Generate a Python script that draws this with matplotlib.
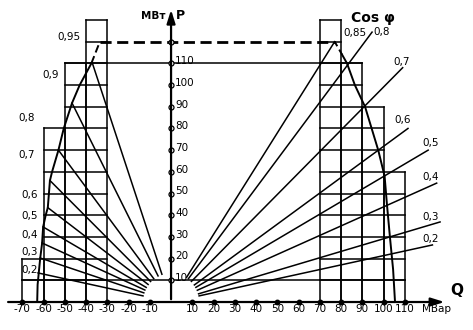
import matplotlib
matplotlib.use("Agg")
import matplotlib.pyplot as plt
import numpy as np

# ---- data ----
q_ticks = [-70, -60, -50, -40, -30, -20, -10, 10, 20, 30, 40, 50, 60, 70, 80, 90, 100, 110]
p_ticks = [10, 20, 30, 40, 50, 60, 70, 80, 90, 100, 110]

# grid columns: (Q from, Q to, top P)
left_cols = [(-70, -60, 20), (-60, -50, 80), (-50, -40, 110), (-40, -30, 130)]
right_cols = [(70, 80, 130), (80, 90, 110), (90, 100, 90), (100, 110, 60)]

# left limiting curve (Q, P)
left_bq = [-63.0, -62.8, -62.2, -61.6, -60.7, -60.2, -59.0, -58.0, -57.0, -56.0, -53.0, -50.5, -46.6, -43.0, -37.5, -35.5, -33.5]
left_bp = [0, 8, 14, 20, 27, 34.6, 40, 43.5, 56, 60, 70, 80, 91.7, 100, 110, 115, 120]

# right limiting curve (Q, P)
right_bq = [105.4, 104.5, 103.0, 101.6, 100.5, 97.5, 91.3, 86.5, 82.8, 80.5, 77.0]
right_bp = [0, 15, 30, 45, 58, 70, 90, 100, 110, 114, 120]

# cos phi rays, left side (end points on the limiting curve)
left_labels = ['0,2', '0,3', '0,4', '0,5', '0,6', '0,7', '0,8', '0,9', '0,95']
left_end_q = [-62.6, -61.6, -60.7, -60.2, -58.0, -57.0, -53.0, -46.6, -37.0]
left_end_p = [13.4, 20.3, 27.2, 34.6, 43.5, 56.0, 70.0, 91.7, 110.0]
left_lab_q = [-66.4, -66.4, -66.4, -66.4, -66.4, -68.2, -67.8, -56.5, -48.0]
left_lab_p = [14.7, 23.0, 30.9, 39.6, 49.3, 67.7, 85.0, 104.6, 122.0]

# cos phi rays, right side
right_labels = ['0,2', '0,3', '0,4', '0,5', '0,6', '0,7', '0,8', '0,85']
right_end_q = [123.0, 126.6, 125.0, 121.0, 111.5, 109.0, 94.6, 77.0]
right_end_p = [26.3, 36.9, 54.8, 70.0, 80.0, 108.0, 124.4, 120.0]
right_lab_q = [122.0, 122.0, 122.0, 122.0, 109.0, 108.7, 99.0, 86.6]
right_lab_p = [29.0, 39.2, 57.6, 73.3, 83.9, 110.6, 124.4, 124.0]

rated_p = 120
line_110 = (-50, 90)
line_10 = (-70, 110)
ray_start = 13.5

# ---- figure ----
fig = plt.figure(figsize=(4.73, 3.30), dpi=100)
ax = fig.add_axes([0, 0, 1, 1])
ax.set_xlim(-80.5, 142.1)
ax.set_ylim(-12.9, 139.2)
ax.axis('off')

K = 'black'
lw = 1.1

def draw_cols(cols):
    for q0, q1, top in cols:
        for q in (q0, q1):
            ax.plot([q, q], [0, top], color=K, lw=lw)
        for p in range(10, top + 1, 10):
            ax.plot([q0, q1], [p, p], color=K, lw=lw)

draw_cols(left_cols)
draw_cols(right_cols)

ax.plot(line_110, [110, 110], color=K, lw=lw)
ax.plot(line_10, [10, 10], color=K, lw=lw)

# limiting curves
lq = np.array(left_bq); lp = np.array(left_bp)
ax.plot(lq[lp <= 110], lp[lp <= 110], color=K, lw=1.4)
ax.plot(lq[lp >= 110], lp[lp >= 110], color=K, lw=1.4, dashes=(4, 2))
rq = np.array(right_bq); rp = np.array(right_bp)
ax.plot(rq[rp <= 114], rp[rp <= 114], color=K, lw=1.4)
ax.plot(rq[rp >= 114], rp[rp >= 114], color=K, lw=1.4, dashes=(3, 2))

# dashed rated power line
ax.plot([left_bq[-1], right_bq[-1]], [rated_p, rated_p], color=K, lw=2.0, dashes=(4, 2))

# rays
def rays(eq, ep):
    for q, p in zip(eq, ep):
        r = np.hypot(q, p)
        ax.plot([q * ray_start / r, q], [p * ray_start / r, p], color=K, lw=1.1)

rays(left_end_q, left_end_p)
rays(right_end_q, right_end_p)

fs = 7.5
for t, q, p in zip(left_labels, left_lab_q, left_lab_p):
    ax.text(q, p, t, fontsize=fs, ha='center', va='center')
for t, q, p in zip(right_labels, right_lab_q, right_lab_p):
    ax.text(q, p, t, fontsize=fs, ha='center', va='center')

# axes
ax.annotate('', xy=(130, 0), xytext=(-78, 0),
            arrowprops=dict(arrowstyle='-|>,head_length=0.8,head_width=0.25', color=K, lw=1.6))
ax.annotate('', xy=(0, 136), xytext=(0, 0),
            arrowprops=dict(arrowstyle='-|>,head_length=0.8,head_width=0.25', color=K, lw=1.6))

ax.plot(q_ticks, [0] * len(q_ticks), 'o', color=K, ms=3.2)
ax.plot([0] * (len(p_ticks) + 1), p_ticks + [rated_p], 'o', mfc='white', mec=K, mew=0.9, ms=3.6)

for q in q_ticks:
    ax.text(q, -3.2, str(q), fontsize=fs, ha='center', va='center')
for p in p_ticks:
    ax.text(2.0, p + 1.0, str(p), fontsize=fs, ha='left', va='center')

ax.text(125, -3.2, 'МВар', fontsize=fs, ha='center', va='center')
ax.text(134.6, 5.5, 'Q', fontsize=11, ha='center', va='center', fontweight='bold')
ax.text(-2.5, 132, 'МВт', fontsize=fs, ha='right', va='center', fontweight='bold')
ax.text(2.5, 132, 'P', fontsize=9, ha='left', va='center', fontweight='bold')
ax.text(95, 131, 'Cos φ', fontsize=10, ha='center', va='center', fontweight='bold')

fig.savefig('out.png', dpi=100, facecolor='white')
